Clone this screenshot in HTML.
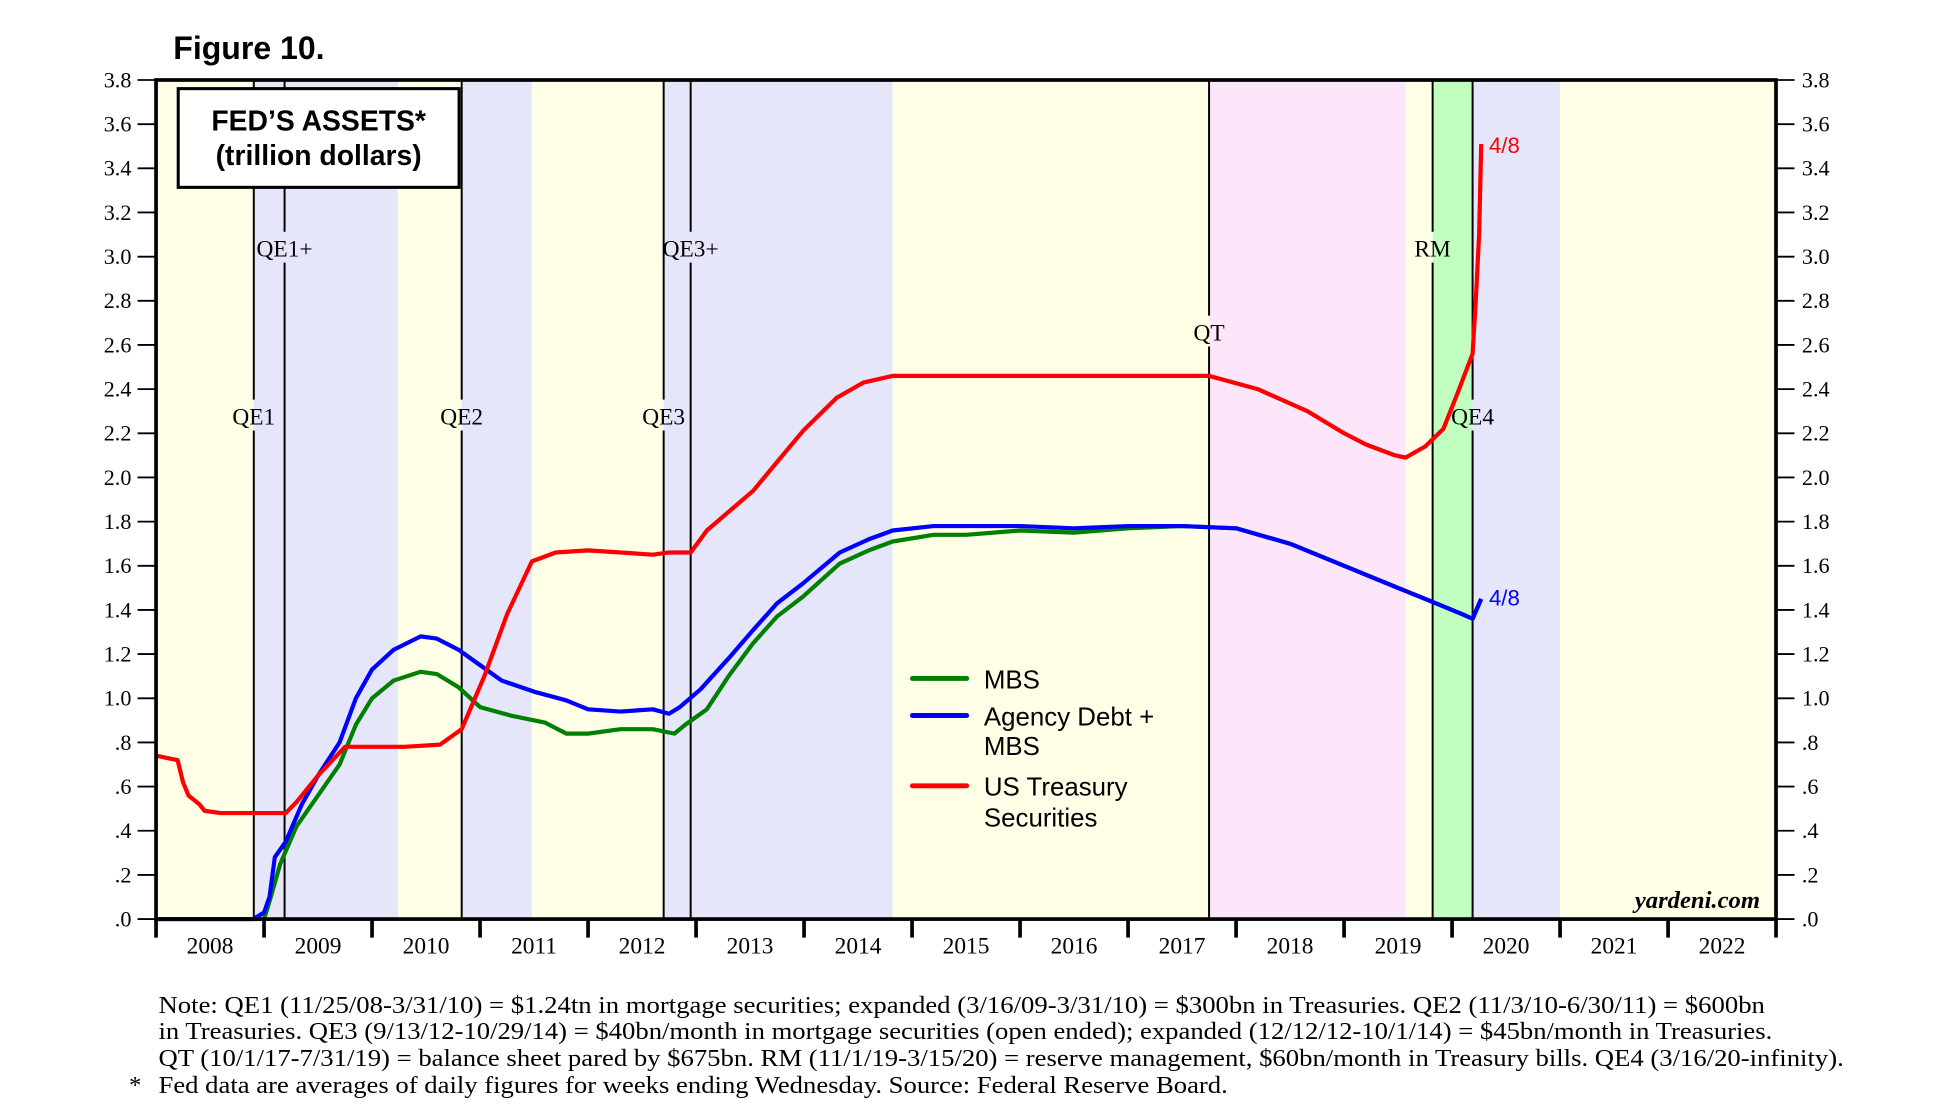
<!DOCTYPE html>
<html><head><meta charset="utf-8"><style>
html,body{margin:0;padding:0;background:#fff;}
svg{display:block;}
.serif{font-family:"Liberation Serif",serif;}
.sans{font-family:"Liberation Sans",sans-serif;}
</style></head><body>
<svg id="chart" width="1935" height="1117" viewBox="0 0 1550 895" preserveAspectRatio="none" xmlns="http://www.w3.org/2000/svg">
<g transform="translate(125,64.1) scale(0.9868,0.9887) translate(-125,-65)">
<g id="bands"></g>
<g id="vlines"></g>
<g id="series"></g>
<g id="axes"></g>
<text class="sans" x="139" y="48" font-size="26" font-weight="bold">Figure 10.</text>
<g>
<rect x="143" y="72" width="228" height="80" fill="#fff" stroke="#000" stroke-width="2.5"/>
<text class="sans" x="257" y="106" font-size="23" font-weight="bold" text-anchor="middle">FED’S ASSETS*</text>
<text class="sans" x="257" y="134" font-size="23" font-weight="bold" text-anchor="middle">(trillion dollars)</text>
</g>
<g class="sans" font-size="21">
<line x1="739" y1="550" x2="783" y2="550" stroke="#008000" stroke-width="4" stroke-linecap="round"/>
<text x="797" y="558">MBS</text>
<line x1="739" y1="580" x2="783" y2="580" stroke="#0000ff" stroke-width="4" stroke-linecap="round"/>
<text x="797" y="588">Agency Debt +</text>
<text x="797" y="612">MBS</text>
<line x1="739" y1="637" x2="783" y2="637" stroke="#ff0000" stroke-width="4" stroke-linecap="round"/>
<text x="797" y="645">US Treasury</text>
<text x="797" y="670">Securities</text>
</g>
<text class="serif" x="1427" y="736" font-size="20" font-weight="bold" font-style="italic" text-anchor="end">yardeni.com</text>
<text class="sans" x="1207" y="124" font-size="18" fill="#ff0000">4/8</text>
<text class="sans" x="1207" y="491" font-size="18" fill="#0000ff">4/8</text>
<g class="serif" font-size="20">
<text x="127" y="821" textLength="1304" lengthAdjust="spacingAndGlyphs">Note: QE1 (11/25/08-3/31/10) = $1.24tn in mortgage securities; expanded (3/16/09-3/31/10) = $300bn in Treasuries. QE2 (11/3/10-6/30/11) = $600bn</text>
<text x="127" y="842" textLength="1310" lengthAdjust="spacingAndGlyphs">in Treasuries. QE3 (9/13/12-10/29/14) = $40bn/month in mortgage securities (open ended); expanded (12/12/12-10/1/14) = $45bn/month in Treasuries.</text>
<text x="127" y="864" textLength="1368" lengthAdjust="spacingAndGlyphs">QT (10/1/17-7/31/19) = balance sheet pared by $675bn. RM (11/1/19-3/15/20) = reserve management, $60bn/month in Treasury bills. QE4 (3/16/20-infinity).</text>
<text x="103" y="886">*</text>
<text x="127" y="886" textLength="868" lengthAdjust="spacingAndGlyphs">Fed data are averages of daily figures for weeks ending Wednesday. Source: Federal Reserve Board.</text>
</g>
</g>
</svg>
<script>
const years = [2008,2009,2010,2011,2012,2013,2014,2015,2016,2017,2018,2019,2020,2021,2022];
const yTicks = [0,0.2,0.4,0.6,0.8,1.0,1.2,1.4,1.6,1.8,2.0,2.2,2.4,2.6,2.8,3.0,3.2,3.4,3.6,3.8];
const bandStarts = [2008.0,2008.905,2010.24,2010.83,2011.48,2012.7,2014.82,2017.75,2019.57,2019.82,2020.19,2021.0];
const bandEnds   = [2008.905,2010.24,2010.83,2011.48,2012.7,2014.82,2017.75,2019.57,2019.82,2020.19,2021.0,2023.0];
const bandColors = ["#fffee6","#e6e6fb","#fffee6","#e6e6fb","#fffee6","#e6e6fb","#fffee6","#fde6fa","#fffee6","#c0ffc0","#e6e6fb","#fffee6"];
const eventNames = ["QE1","QE1+","QE2","QE3","QE3+","QT","RM","QE4"];
const eventDates = [2008.905,2009.19,2010.83,2012.7,2012.95,2017.75,2019.82,2020.19];
const eventLabelVals = [2.28,3.04,2.28,2.28,3.04,2.66,3.04,2.28];
const tsyDates = [2008.0,2008.1,2008.2,2008.25,2008.3,2008.4,2008.45,2008.6,2009.0,2009.2,2009.3,2009.5,2009.75,2010.0,2010.3,2010.63,2010.83,2011.04,2011.25,2011.48,2011.7,2012.0,2012.3,2012.6,2012.75,2012.95,2013.1,2013.53,2013.75,2013.99,2014.3,2014.55,2014.82,2015.0,2016.0,2017.0,2017.5,2017.75,2018.2,2018.66,2019.0,2019.2,2019.47,2019.57,2019.75,2019.92,2020.05,2020.19,2020.22,2020.25,2020.27];
const tsyVals  = [0.74,0.73,0.72,0.62,0.56,0.52,0.49,0.48,0.48,0.48,0.53,0.65,0.78,0.78,0.78,0.79,0.86,1.10,1.38,1.62,1.66,1.67,1.66,1.65,1.66,1.66,1.76,1.94,2.07,2.21,2.36,2.43,2.46,2.46,2.46,2.46,2.46,2.46,2.40,2.30,2.20,2.15,2.10,2.09,2.14,2.22,2.38,2.56,2.80,3.10,3.51];
const agyDates = [2008.0,2008.9,2009.0,2009.05,2009.1,2009.2,2009.35,2009.5,2009.7,2009.85,2010.0,2010.2,2010.45,2010.6,2010.8,2011.0,2011.2,2011.5,2011.8,2012.0,2012.3,2012.6,2012.75,2012.85,2013.04,2013.3,2013.53,2013.75,2013.99,2014.33,2014.6,2014.82,2015.2,2015.5,2016.0,2016.5,2017.0,2017.5,2018.0,2018.5,2019.0,2019.5,2019.8,2020.1,2020.19,2020.27];
const agyVals  = [0,0,0.03,0.10,0.28,0.35,0.52,0.65,0.80,1.00,1.13,1.22,1.28,1.27,1.22,1.15,1.08,1.03,0.99,0.95,0.94,0.95,0.93,0.96,1.04,1.18,1.31,1.43,1.52,1.66,1.72,1.76,1.78,1.78,1.78,1.77,1.78,1.78,1.77,1.70,1.60,1.50,1.44,1.38,1.36,1.45];
const mbsDates = [2008.0,2009.0,2009.05,2009.15,2009.3,2009.5,2009.7,2009.85,2010.0,2010.2,2010.45,2010.6,2010.8,2011.0,2011.3,2011.6,2011.8,2012.0,2012.3,2012.6,2012.8,2012.9,2013.1,2013.3,2013.53,2013.75,2013.99,2014.33,2014.6,2014.82,2015.2,2015.5,2016.0,2016.5,2017.0,2017.5,2018.0,2018.5,2019.0,2019.5,2019.8,2020.1,2020.19,2020.27];
const mbsVals  = [0,0,0.08,0.25,0.42,0.56,0.70,0.88,1.00,1.08,1.12,1.11,1.05,0.96,0.92,0.89,0.84,0.84,0.86,0.86,0.84,0.88,0.95,1.10,1.25,1.37,1.46,1.61,1.67,1.71,1.74,1.74,1.76,1.75,1.77,1.78,1.77,1.70,1.60,1.50,1.44,1.38,1.36,1.45];

const NS="http://www.w3.org/2000/svg";
const X0=125, YW=87.67, PL=125, PR=1440, PT=65, PB=745;
function xs(d){return Math.min(PR, X0+(d-2008)*YW);}
function ys(v){return PB - v*(PB-PT)/3.8;}
function mk(tag,attrs,parent){const e=document.createElementNS(NS,tag);for(const k in attrs)e.setAttribute(k,attrs[k]);parent.appendChild(e);return e;}
const gB=document.getElementById('bands'), gV=document.getElementById('vlines'), gS=document.getElementById('series'), gA=document.getElementById('axes');
bandStarts.forEach((s,i)=>{
  const r=mk('rect',{x:Math.max(PL,xs(s)),y:PT,width:xs(bandEnds[i])-Math.max(PL,xs(s)),height:PB-PT,fill:bandColors[i]},gB);
  
  
});
eventDates.forEach((d,i)=>{
  const x=xs(d), ly=ys(eventLabelVals[i]);
  const l1=mk('line',{x1:x,y1:PT,x2:x,y2:ly-13,stroke:'#000','stroke-width':1.6},gV);
  
  
  mk('line',{x1:x,y1:ly+12,x2:x,y2:PB,stroke:'#000','stroke-width':1.6},gV);
  const t=mk('text',{x:x,y:ly+7,'font-size':19,'text-anchor':'middle',class:'serif'},gV);
  t.textContent=eventNames[i];
  
  
});
function path(dates,vals,color,name){
  const d=dates.map((t,i)=>(i?'L':'M')+xs(t).toFixed(1)+' '+ys(vals[i]).toFixed(1)).join(' ');
  const p=mk('path',{d:d,fill:'none',stroke:color,'stroke-width':3.4,'stroke-linejoin':'round'},gS);
  
  
}
path(mbsDates,mbsVals,'#008000','mbs-line');
path(agyDates,agyVals,'#0000ff','agency-mbs-line');
path(tsyDates,tsyVals,'#ff0000','treasury-line');
const fr=mk('rect',{x:PL,y:PT,width:PR-PL,height:PB-PT,fill:'none',stroke:'#000','stroke-width':3},gA);


yTicks.forEach(v=>{
  const y=ys(v);
  mk('line',{x1:110,y1:y,x2:PL,y2:y,stroke:'#000','stroke-width':1.5},gA);
  mk('line',{x1:PR,y1:y,x2:1455,y2:y,stroke:'#000','stroke-width':1.5},gA);
  const lab=(v<1? v.toFixed(1).replace(/^0/,'') : v.toFixed(1));
  const t1=mk('text',{x:105,y:y+6,'font-size':18,'text-anchor':'end',class:'serif'},gA);
  t1.textContent=lab;
  
  
  const t2=mk('text',{x:1461,y:y+6,'font-size':18,class:'serif'},gA);
  t2.textContent=lab;
  
  
});
years.forEach((yr,i)=>{
  const x=xs(yr);
  mk('line',{x1:x,y1:PB,x2:x,y2:PB+15,stroke:'#000','stroke-width':3},gA);
  const t=mk('text',{x:x+YW/2,y:PB+28,'font-size':19,'text-anchor':'middle',class:'serif'},gA);
  t.textContent=yr;
  
  
});
mk('line',{x1:PR,y1:PB,x2:PR,y2:PB+15,stroke:'#000','stroke-width':3},gA);
</script>
</body></html>
